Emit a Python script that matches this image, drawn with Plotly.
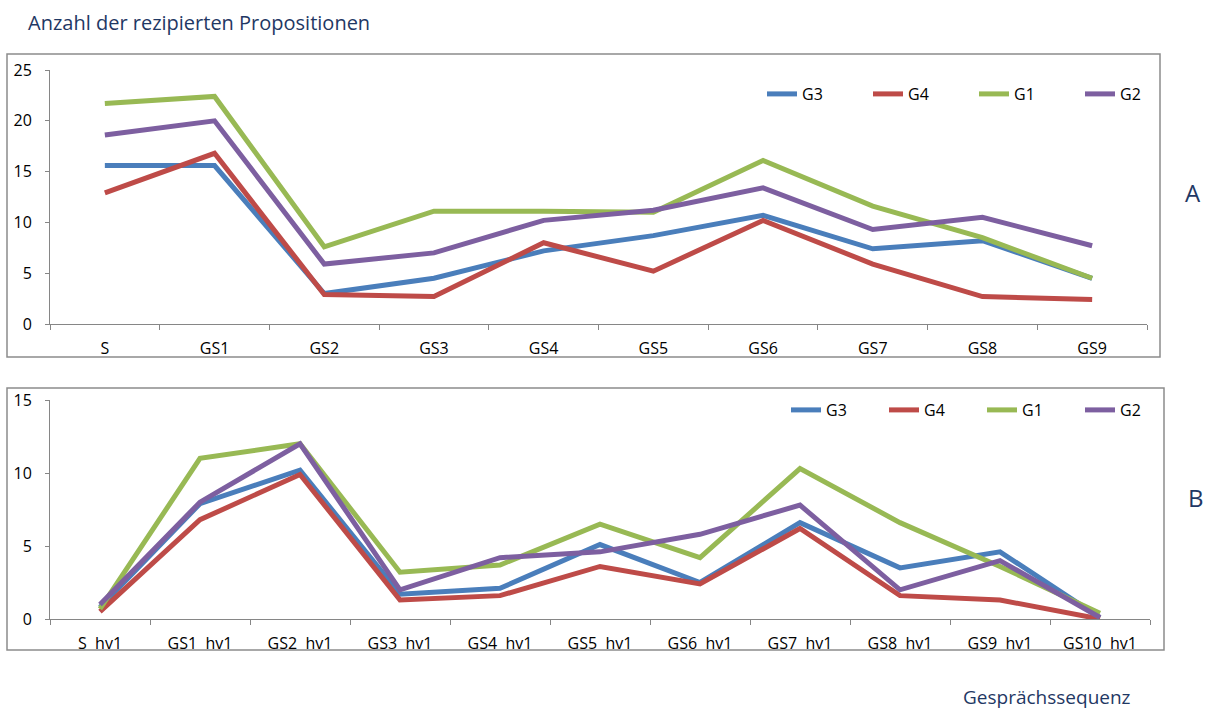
import plotly.graph_objects as go

# ---- data ----
cats_a = ["S", "GS1", "GS2", "GS3", "GS4", "GS5", "GS6", "GS7", "GS8", "GS9"]
a_g3 = [15.6, 15.6, 3.0, 4.5, 7.2, 8.7, 10.7, 7.4, 8.2, 4.5]
a_g4 = [12.9, 16.8, 2.9, 2.7, 8.0, 5.2, 10.2, 5.9, 2.7, 2.4]
a_g1 = [21.7, 22.4, 7.6, 11.1, 11.1, 11.0, 16.1, 11.6, 8.5, 4.5]
a_g2 = [18.6, 20.0, 5.9, 7.0, 10.2, 11.2, 13.4, 9.3, 10.5, 7.7]

cats_b = ["S  hv1", "GS1  hv1", "GS2  hv1", "GS3  hv1", "GS4  hv1", "GS5  hv1",
          "GS6  hv1", "GS7  hv1", "GS8  hv1", "GS9  hv1", "GS10  hv1"]
b_g3 = [0.8, 7.9, 10.2, 1.7, 2.1, 5.1, 2.5, 6.6, 3.5, 4.6, 0.1]
b_g4 = [0.5, 6.8, 9.9, 1.3, 1.6, 3.6, 2.4, 6.2, 1.6, 1.3, 0.0]
b_g1 = [0.7, 11.0, 12.0, 3.2, 3.7, 6.5, 4.2, 10.3, 6.6, 3.6, 0.4]
b_g2 = [1.0, 8.0, 12.0, 2.0, 4.2, 4.6, 5.8, 7.8, 2.0, 4.0, 0.1]

series_names = ["G3", "G4", "G1", "G2"]
colors = ["#4A7EBB", "#BE4B48", "#98B954", "#7D5FA0"]

W, H = 1211, 711
def px(x):
    return x / W
def py(y):
    return 1 - y / H

FONT = "'Open Sans', sans-serif"
NAVY = "#1F3864"
AXC = "#868686"

fig = go.Figure()

for name, col, vals in zip(series_names, colors, [a_g3, a_g4, a_g1, a_g2]):
    fig.add_trace(go.Scatter(x=cats_a, y=vals, mode="lines", name=name,
                             line=dict(color=col, width=5),
                             xaxis="x", yaxis="y", legend="legend"))
for name, col, vals in zip(series_names, colors, [b_g3, b_g4, b_g1, b_g2]):
    fig.add_trace(go.Scatter(x=cats_b, y=vals, mode="lines", name=name,
                             line=dict(color=col, width=5),
                             xaxis="x2", yaxis="y2", legend="legend2"))

xcommon = dict(type="category", showgrid=False, zeroline=False, showline=True,
               linecolor=AXC, linewidth=1, ticks="outside", tickson="boundaries",
               ticklen=5, tickcolor=AXC, ticklabelstandoff=10, automargin=False,
               tickfont=dict(family=FONT, size=16, color="#000"), fixedrange=True)
ycommon = dict(showgrid=False, zeroline=False, showline=True, linecolor=AXC, linewidth=1,
               ticks="outside", ticklen=4, tickcolor=AXC, dtick=5, ticklabelstandoff=10,
               automargin=False,
               tickfont=dict(family=FONT, size=16, color="#000"), fixedrange=True)

fig.update_layout(
    width=W, height=H,
    margin=dict(l=0, r=0, t=0, b=0, autoexpand=False),
    paper_bgcolor="white", plot_bgcolor="white",
    font=dict(family=FONT, color="#000"),
    xaxis=dict(xcommon, domain=[px(50), px(1147)], anchor="y",
               range=[-0.5, len(cats_a) - 0.5]),
    yaxis=dict(ycommon, domain=[py(324), py(70)], anchor="x", range=[0, 25]),
    xaxis2=dict(xcommon, domain=[px(50), px(1150)], anchor="y2",
                range=[-0.5, len(cats_b) - 0.5]),
    yaxis2=dict(ycommon, domain=[py(619), py(400)], anchor="x2", range=[0, 15]),
    legend=dict(orientation="h", x=px(762), xanchor="left", y=py(94), yanchor="middle",
                entrywidth=61, entrywidthmode="pixels",
                font=dict(family=FONT, size=16, color="#000"), bgcolor="rgba(0,0,0,0)"),
    legend2=dict(orientation="h", x=px(786), xanchor="left", y=py(410), yanchor="middle",
                 entrywidth=53, entrywidthmode="pixels",
                 font=dict(family=FONT, size=16, color="#000"), bgcolor="rgba(0,0,0,0)"),
    shapes=[
        dict(type="rect", xref="paper", yref="paper", x0=px(7), x1=px(1160), y0=py(357), y1=py(54),
             line=dict(color="#8C8C8C", width=1.5), fillcolor="rgba(0,0,0,0)", layer="below"),
        dict(type="rect", xref="paper", yref="paper", x0=px(7), x1=px(1164), y0=py(650), y1=py(388),
             line=dict(color="#8C8C8C", width=1.5), fillcolor="rgba(0,0,0,0)", layer="below"),
    ],
    annotations=[
        dict(text="Anzahl der rezipierten Propositionen", xref="paper", yref="paper",
             x=px(26), y=py(22), xanchor="left", yanchor="middle", showarrow=False,
             font=dict(family=FONT, size=20, color=NAVY)),
        dict(text="A", xref="paper", yref="paper", x=px(1193), y=py(192), xanchor="center",
             yanchor="middle", showarrow=False, font=dict(family=FONT, size=24, color=NAVY)),
        dict(text="B", xref="paper", yref="paper", x=px(1196), y=py(497), xanchor="center",
             yanchor="middle", showarrow=False, font=dict(family=FONT, size=24, color=NAVY)),
        dict(text="Gesprächssequenz", xref="paper", yref="paper", x=px(1047), y=py(697),
             xanchor="center", yanchor="middle", showarrow=False,
             font=dict(family=FONT, size=19, color=NAVY)),
    ],
)

fig.write_html("out.html", config={"displayModeBar": False},
               post_script="document.body.style.margin='0';document.body.style.overflow='hidden';")
